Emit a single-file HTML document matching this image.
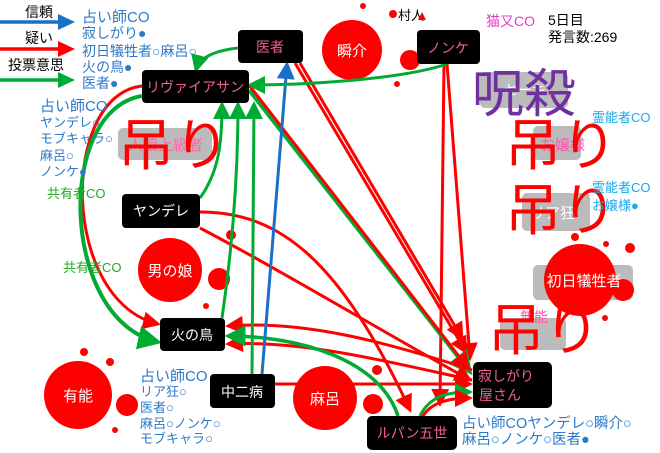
<!DOCTYPE html>
<html><head><meta charset="utf-8"><style>
html,body{margin:0;padding:0;background:#fff;}
svg{display:block;font-family:"Liberation Sans","Noto Sans CJK JP",sans-serif;}
</style></head><body>
<svg width="660" height="453" viewBox="0 0 660 453" xmlns="http://www.w3.org/2000/svg">
<defs>
<marker id="r" markerWidth="6" markerHeight="6" refX="5" refY="3" orient="auto" markerUnits="strokeWidth"><path d="M0,0 L6,3 L0,6z" fill="#f00"/></marker>
<marker id="g" markerWidth="6" markerHeight="6" refX="5" refY="3" orient="auto" markerUnits="strokeWidth"><path d="M0,0 L6,3 L0,6z" fill="#0a3"/></marker>
<marker id="b" markerWidth="6" markerHeight="6" refX="5" refY="3" orient="auto" markerUnits="strokeWidth"><path d="M0,0 L6,3 L0,6z" fill="#1a6fc8"/></marker>
</defs>
<g fill="#bbb">
<rect x="118" y="128" width="94" height="32" rx="5"/>
<rect x="480" y="72" width="88" height="36" rx="5"/>
<rect x="533" y="126" width="48" height="34" rx="5"/>
<rect x="522" y="193" width="68" height="38" rx="5"/>
<rect x="500" y="318" width="66" height="32" rx="5"/>
<rect x="533" y="265" width="100" height="35" rx="5"/>
</g>
<g font-size="15" fill="#f5a">
<text x="128" y="150" fill="#f6a">人狼上級者</text>
<text x="540" y="150">お嬢様</text>
<text x="520" y="322" font-size="14">無能</text>
</g>
<text x="530" y="218" fill="#fff" font-size="15">リア狂</text>
<g fill="#f00">
<circle cx="352" cy="50" r="30"/><circle cx="410" cy="60" r="10"/><circle cx="393" cy="14" r="4"/><circle cx="397" cy="84" r="3"/><circle cx="363" cy="6" r="3"/>
<circle cx="170" cy="270" r="32"/><circle cx="219" cy="279" r="11"/><circle cx="231" cy="235" r="5"/><circle cx="206" cy="306" r="3"/>
<circle cx="78" cy="395" r="34"/><circle cx="127" cy="405" r="11"/><circle cx="110" cy="362" r="4"/><circle cx="84" cy="352" r="4"/><circle cx="115" cy="430" r="3"/>
<circle cx="325" cy="398" r="32"/><circle cx="373" cy="404" r="10"/><circle cx="377" cy="370" r="5"/>
<circle cx="580" cy="280" r="36"/><circle cx="623" cy="290" r="11"/><circle cx="630" cy="248" r="5"/><circle cx="606" cy="244" r="3"/><circle cx="605" cy="318" r="3"/><circle cx="575" cy="237" r="4"/>
</g>
<g fill="#fff" font-size="15" text-anchor="middle">
<text x="352" y="56">瞬介</text>
<text x="170" y="276">男の娘</text>
<text x="78" y="401">有能</text>
<text x="325" y="404">麻呂</text>
<text x="584" y="286">初日犠牲者</text>
<text x="525" y="95" font-size="14">セーキ</text>
</g>
<g font-size="56" fill="#f00">
<text x="118" y="165">吊り</text>
<text x="505" y="165">吊り</text>
<text x="505" y="230">吊り</text>
<text x="488" y="350">吊り</text>
</g>
<text x="472" y="112" font-size="52" fill="#7030a0">呪殺</text>
<g fill="none" stroke-width="3">
<path d="M300,63 L462,338" stroke="#f00" marker-end="url(#r)"/>
<path d="M295,63 L466,352" stroke="#f00" marker-end="url(#r)"/>
<path d="M447,64 L470,358" stroke="#f00" marker-end="url(#r)"/>
<path d="M444,64 L440,404" stroke="#f00" marker-end="url(#r)"/>
<path d="M249,90 L470,372" stroke="#0a3" stroke-width="4" marker-end="url(#g)"/>
<path d="M249,85 L468,368" stroke="#f00" marker-end="url(#r)"/>
<path d="M142,86 C60,95 60,300 158,324" stroke="#f00" marker-end="url(#r)"/>
<path d="M142,96 C55,110 60,320 158,342" stroke="#0a3" stroke-width="4" marker-end="url(#g)"/>
<path d="M200,212 C280,212 340,260 410,410" stroke="#f00" marker-end="url(#r)"/>
<path d="M200,228 C280,270 380,330 470,380" stroke="#f00" marker-end="url(#r)"/>
<path d="M275,384 L470,384" stroke="#f00" marker-end="url(#r)"/>
<path d="M472,370 C380,340 300,320 228,326" stroke="#f00" marker-end="url(#r)"/>
<path d="M472,380 C380,360 300,340 228,344" stroke="#f00" marker-end="url(#r)"/>
<path d="M398,416 C380,360 300,336 228,336" stroke="#0a3" stroke-width="3.5" marker-end="url(#g)"/>
<path d="M420,416 C430,395 450,392 470,392" stroke="#0a3" marker-end="url(#g)"/>
<path d="M422,418 C430,402 450,398 470,398" stroke="#f00" marker-end="url(#r)"/>
<path d="M262,374 L287,64" stroke="#1a6fc8" marker-end="url(#b)"/>
<path d="M252,374 L254,104" stroke="#0a3" marker-end="url(#g)"/>
<path d="M222,318 C232,250 238,180 238,104" stroke="#0a3" marker-end="url(#g)"/>
<path d="M200,198 C220,170 222,140 222,104" stroke="#0a3" marker-end="url(#g)"/>
<path d="M238,48 C220,50 200,55 196,70" stroke="#0a3" marker-end="url(#g)"/>
<path d="M447,64 C400,80 300,85 250,85" stroke="#0a3" marker-end="url(#g)"/>
</g>
<g stroke-width="3.5">
<path d="M0,22 L62,22" stroke="#1a6fc8"/><path d="M58,14 L75,22 L58,30z" fill="#1a6fc8"/>
<path d="M0,49 L62,49" stroke="#f00"/><path d="M58,41 L75,49 L58,57z" fill="#f00"/>
<path d="M0,80 L62,80" stroke="#0a3"/><path d="M58,72 L75,80 L58,88z" fill="#0a3"/>
</g>
<g font-size="14" fill="#000">
<text x="25" y="17">信頼</text><text x="25" y="43">疑い</text><text x="8" y="70">投票意思</text>
</g>
<g fill="#2a7ac8">
<text x="82" y="22" font-size="15">占い師CO</text>
<g font-size="14"><text x="82" y="38">寂しがり●</text><text x="82" y="56">初日犠牲者○麻呂○</text><text x="82" y="72">火の鳥●</text><text x="82" y="88">医者●</text></g>
<text x="40" y="111" font-size="15">占い師CO</text>
<g font-size="13"><text x="40" y="127">ヤンデレ○</text><text x="40" y="143">モブキャラ○</text><text x="40" y="160">麻呂○</text><text x="40" y="176">ノンケ●</text></g>
<text x="140" y="381" font-size="15">占い師CO</text>
<g font-size="13"><text x="140" y="396">リア狂○</text><text x="140" y="412">医者○</text><text x="140" y="428">麻呂○ノンケ○</text><text x="140" y="443">モブキャラ○</text></g>
<text x="462" y="428" font-size="14.5">占い師COヤンデレ○瞬介○</text>
<text x="462" y="444" font-size="14.5">麻呂○ノンケ○医者●</text>
</g>
<g fill="#1aa8e8" font-size="13">
<text x="592" y="122">霊能者CO</text><text x="592" y="192">霊能者CO</text><text x="592" y="210">お嬢様●</text>
</g>
<g fill="#2a2" font-size="13"><text x="47" y="198">共有者CO</text><text x="63" y="272">共有者CO</text></g>
<text x="486" y="26" font-size="14" fill="#e040c0">猫又CO</text>
<text x="548" y="25" font-size="14">5日目</text>
<text x="548" y="42" font-size="14">発言数:269</text>
<text x="398" y="20" font-size="13">村人</text><path d="M418,20 L422,12 L426,20z" fill="#f00"/>
<g fill="#000">
<rect x="238" y="30" width="65" height="33" rx="4"/>
<rect x="142" y="70" width="107" height="33" rx="4"/>
<rect x="417" y="30" width="63" height="34" rx="4"/>
<rect x="122" y="194" width="78" height="34" rx="4"/>
<rect x="160" y="318" width="65" height="33" rx="4"/>
<rect x="210" y="374" width="65" height="34" rx="4"/>
<rect x="473" y="362" width="79" height="46" rx="5"/>
<rect x="367" y="416" width="90" height="34" rx="5"/>
</g>
<g font-size="14" text-anchor="middle">
<text x="270" y="52" fill="#f06090">医者</text>
<text x="195" y="92" fill="#f06090">リヴァイアサン</text>
<text x="448" y="53" fill="#f06090">ノンケ</text>
<text x="161" y="216" fill="#fff">ヤンデレ</text>
<text x="192" y="340" fill="#fff">火の鳥</text>
<text x="242" y="397" fill="#fff">中二病</text>
<text x="506" y="381" fill="#f06090">寂しがり</text>
<text x="500" y="400" fill="#f06090">屋さん</text>
<text x="412" y="438" fill="#f06090">ルパン五世</text>
</g>
</svg>
</body></html>
